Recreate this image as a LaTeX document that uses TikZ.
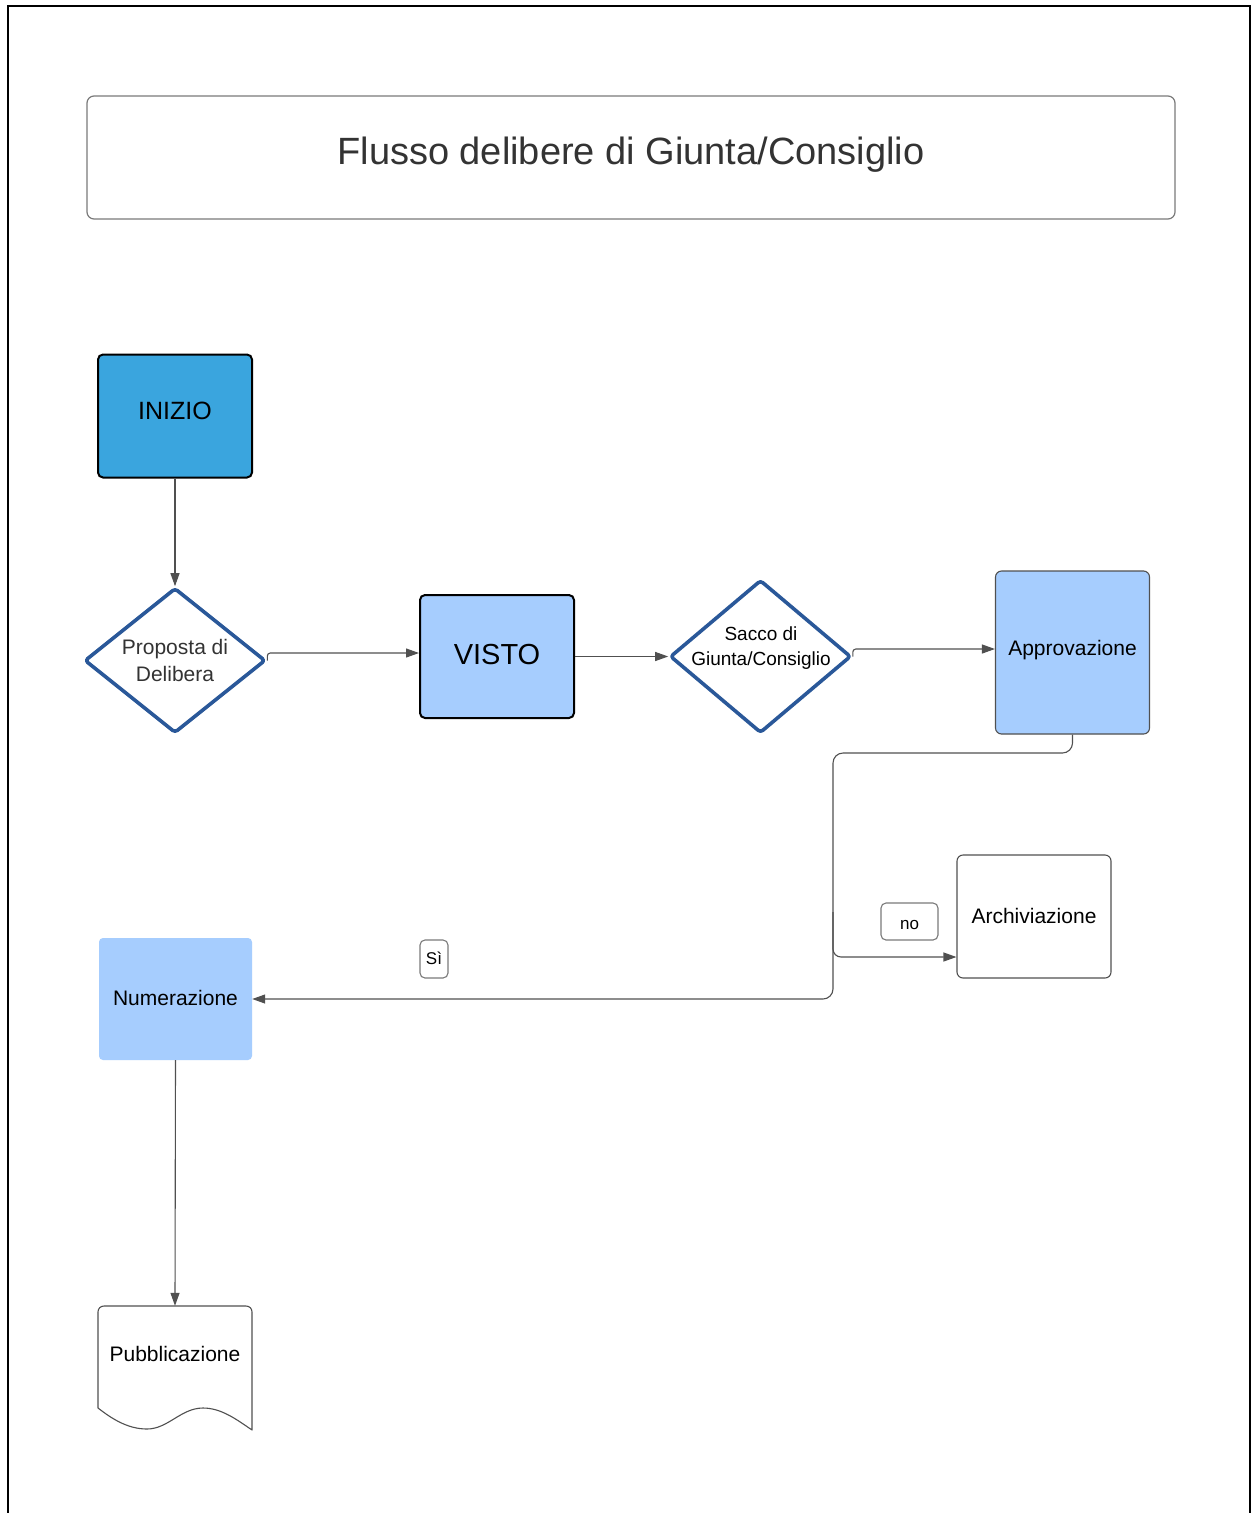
\documentclass[tikz,border=0pt]{standalone}
\usepackage{fontspec}
\setmainfont{Liberation Sans}
\usetikzlibrary{arrows.meta,shapes.geometric,calc}

\definecolor{startblue}{HTML}{3AA5DE}
\definecolor{stepblue}{HTML}{A6CDFE}
\definecolor{diamblue}{HTML}{2A5899}
\definecolor{linegray}{HTML}{505050}
\definecolor{framegray}{HTML}{7A7A7A}
\definecolor{textgray}{HTML}{333333}

% shift a label visually without changing its box
\newcommand{\nudge}[2]{\raisebox{#1}[\height][\depth]{#2}}

\begin{document}
\begin{tikzpicture}[x=1pt,y=-1pt,
  every node/.style={inner sep=2pt, align=center},
  stepbox/.style={rectangle, rounded corners=5pt, minimum width=154pt, minimum height=123pt},
  strongbox/.style={stepbox, draw=black, line width=2pt},
  diam/.style={diamond, draw=diamblue, line width=3.6pt, rounded corners=3pt,
    line join=round, inner sep=0pt, fill=white},
  tag/.style={rectangle, rounded corners=5pt, draw=framegray, line width=1.1pt,
    font=\fontsize{17pt}{20pt}\selectfont, inner sep=0pt},
  conn/.style={draw=linegray, line width=1.1pt},
  arr/.style={conn, -{Triangle[length=13pt,width=9pt]}},
  body/.style={font=\fontsize{21pt}{27pt}\selectfont}
]
% canvas and frame
\fill[white] (0,0) rectangle (1252,1513);
\useasboundingbox (0,0) rectangle (1252,1513);
\draw[line width=2pt] (8,1513) -- (8,6) -- (1250,6) -- (1250,1513);

% title
\node[rectangle, rounded corners=7pt, draw=framegray, line width=1.2pt,
      minimum width=1088pt, minimum height=123pt, text=textgray,
      font=\fontsize{38pt}{44pt}\selectfont] (title) at (631,157.5)
      {\nudge{3pt}{Flusso delibere di Giunta/Consiglio}};

% steps
\node[strongbox, fill=startblue, font=\fontsize{25pt}{30pt}\selectfont] (inizio) at (175,416) {\nudge{5pt}{INIZIO}};

\node[diam, minimum width=181pt, minimum height=145pt] (d1) at (175,660.5) {};
\node[body, text=textgray] at (175,660) {Proposta di\\Delibera};

\node[strongbox, fill=stepblue, font=\fontsize{29pt}{34pt}\selectfont] (visto) at (497,656.5) {\nudge{2pt}{VISTO}};

\node[diam, minimum width=181pt, minimum height=153pt] (d2) at (760.5,656.5) {};
\node[font=\fontsize{19pt}{25pt}\selectfont] at (761,648) {Sacco di\\Giunta/Consiglio};

\node[stepbox, minimum height=163pt, rounded corners=6pt, fill=stepblue, draw=linegray,
      line width=1.1pt] (appr) at (1072.5,652.5) {};
\node[body] at (1072.5,650.5) {Approvazione};

\node[stepbox, rounded corners=6pt, draw=linegray, line width=1.1pt, fill=white] (arch) at (1034,916.5) {};
\node[body] at (1034,915.5) {Archiviazione};

\node[stepbox, minimum width=153pt, minimum height=122pt, rounded corners=4pt, fill=stepblue] (num) at (175.5,999) {};
\node[body] at (175.5,997.5) {Numerazione};

% document shape
\node[rectangle, minimum width=154pt, minimum height=124pt, inner sep=0pt] (pub) at (175,1368) {};
\draw[draw=linegray, line width=1.1pt, fill=white, line join=round]
  (98,1408) -- (98,1312)
  .. controls (98,1308.5) and (100.5,1306) .. (104,1306) -- (246,1306)
  .. controls (249.5,1306) and (252,1308.5) .. (252,1312) -- (252,1430)
  .. controls (236,1419) and (221,1408) .. (203,1408)
  .. controls (181,1408) and (168,1429) .. (147,1429)
  .. controls (127,1429) and (111,1418) .. (98,1408);
\node[body] at (175,1354) {Pubblicazione};

% labels
\node[tag, minimum width=57pt, minimum height=37pt] (no) at (909.5,921.5) {\nudge{-3pt}{no}};
\node[tag, minimum width=28pt, minimum height=38pt] (si) at (434,959) {\nudge{1pt}{Sì}};

% junctions of the outcome line
\coordinate (j1) at (833,753);
\coordinate (j2) at (833,912);

% connectors
\draw[arr] (inizio.south) -- (d1.north);
\draw[arr, rounded corners=3pt] (d1.east) |- ([yshift=3.5pt]visto.west);
\draw[arr] (visto.east) -- (d2.west);
\draw[arr, rounded corners=3pt] (d2.east) |- ([yshift=3.5pt]appr.west);
\draw[arr, rounded corners=10pt] (appr.south) |- (j1) |- (num.east);
\draw[arr, rounded corners=8pt] (j2) |- ([yshift=-40.5pt]arch.west);
\draw[arr] (num.south) -- (pub.north);
\end{tikzpicture}
\end{document}
